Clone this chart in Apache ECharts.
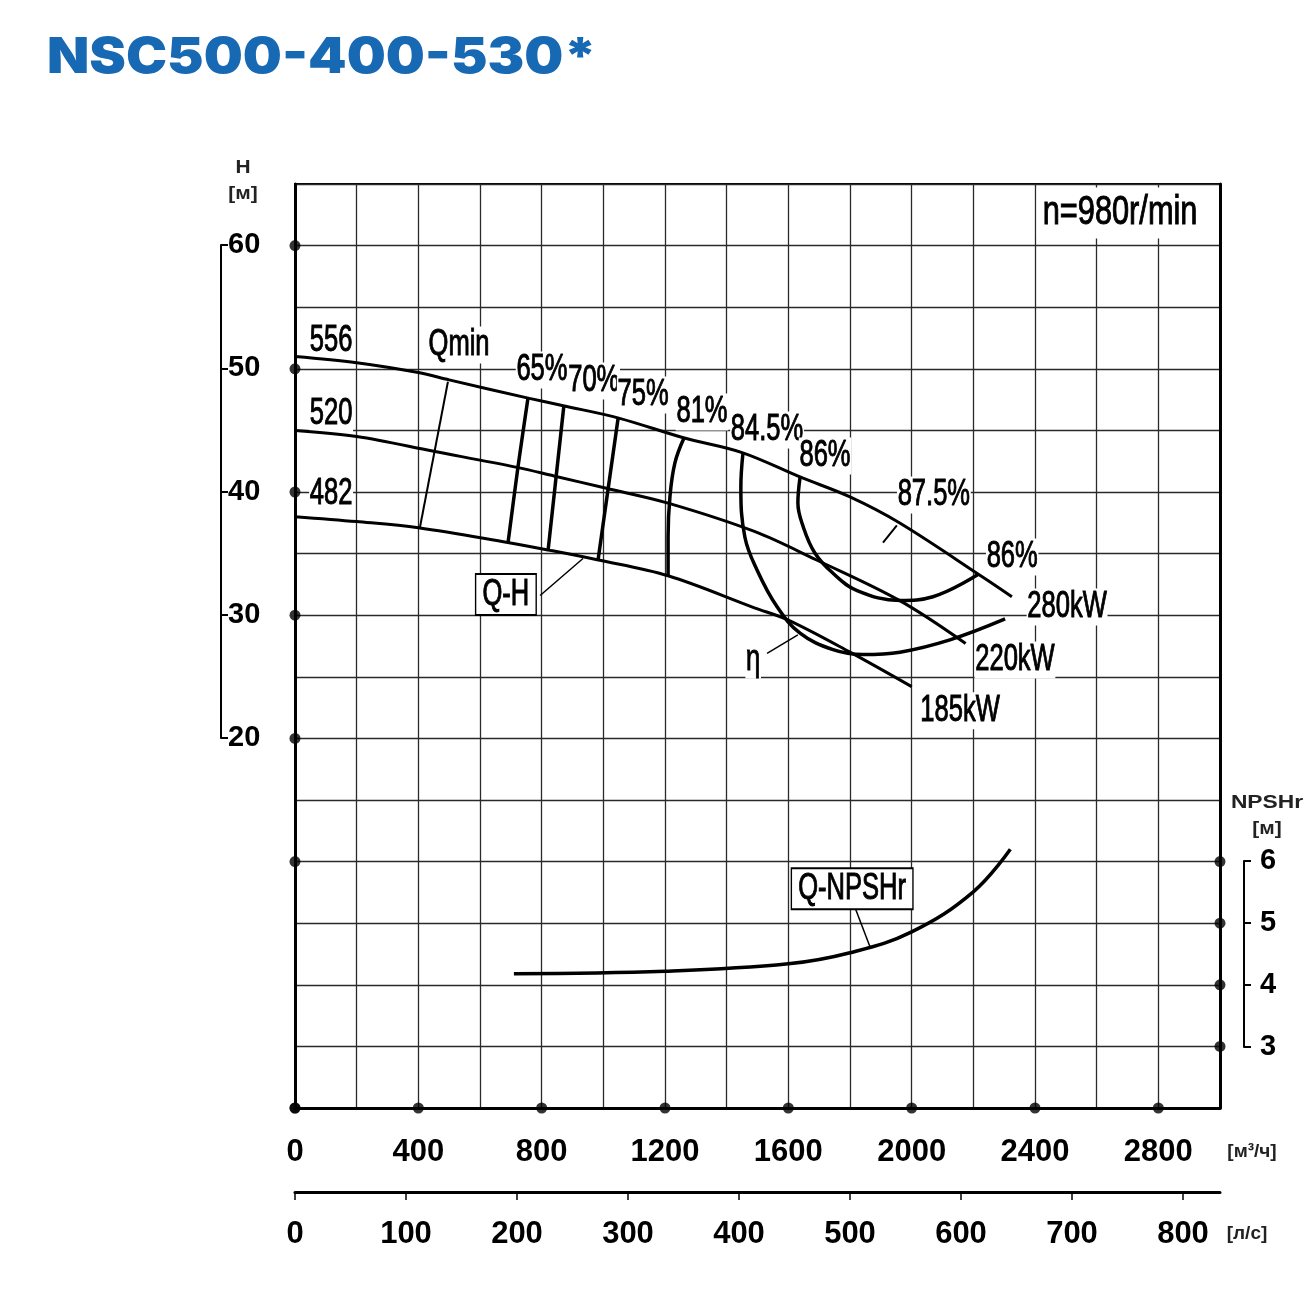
<!DOCTYPE html>
<html>
<head>
<meta charset="utf-8">
<script src="https://cdn.jsdelivr.net/npm/echarts@6/dist/echarts.min.js"></script>
<style>
html, body { margin: 0; padding: 0; background: #fff; }
#main { width: 1310px; height: 1295px; }
</style>
</head>
<body>
<div id="main"></div>
<script>
// Q [m3/h], H [m]
var qh556 = [[0, 51.0], [200, 50.5], [400, 49.7], [500, 49.1], [760, 47.6], [870, 47.0], [1050, 46.0], [1260, 44.4], [1450, 43.2], [1640, 41.2], [1800, 39.6], [1960, 37.5], [2230, 33.1], [2325, 31.5]];
var qh520 = [[0, 45.0], [200, 44.5], [450, 43.3], [720, 42.0], [840, 41.3], [1010, 40.3], [1210, 39.1], [1490, 36.8], [1690, 34.5], [1960, 31.2], [2175, 27.7]];
var qh482 = [[0, 38.0], [200, 37.6], [400, 37.1], [690, 35.9], [820, 35.3], [980, 34.5], [1210, 33.2], [1490, 30.6], [1600, 29.6], [1800, 27.0], [2000, 24.2]];

// iso-efficiency lines
var effQmin = [[496, 48.95], [405, 37.1]];
var eff65 = [[756, 47.7], [723, 42.0], [691, 35.9]];
var eff70 = [[872, 47.0], [821, 35.3]];
var eff75 = [[1048, 46.0], [983, 34.5]];
var eff81 = [[1262, 44.4], [1232, 42.35], [1216, 39.6], [1210, 36.35], [1210, 33.2]];
var eff845 = [[1453, 43.2], [1446, 40.4], [1459, 36.35], [1498, 33.7], [1563, 30.7], [1638, 28.55], [1745, 27.2], [1842, 26.8], [1962, 27.0], [2124, 28.0], [2303, 29.7]];
var eff86 = [[1638, 41.2], [1631, 39.1], [1648, 37.2], [1686, 35.05], [1745, 33.4], [1823, 32.0], [1962, 31.2], [2069, 31.5], [2215, 33.3]];

// Q [m3/h], NPSHr [m]
var npshr = [[710, 4.18], [1200, 4.22], [1600, 4.34], [1800, 4.52], [2000, 4.86], [2200, 5.51], [2320, 6.2]];

// leader lines
var leadQH = [[795, 31.6], [934, 34.6]];
var leadEta = [[1531, 26.9], [1631, 28.4]];
var lead875 = [[1907, 35.9], [1952, 37.3]];
var leadNpsh = [[1818, 5.23], [1866, 4.6]];

// curve labels [Q, H, text]
var curveLabels = [
  [117, 52.26, '556'], [117, 46.33, '520'], [117, 39.84, '482'],
  [532, 51.93, 'Qmin'], [801, 49.9, '65%'], [969, 49.0, '70%'], [1129, 47.87, '75%'],
  [1320, 46.49, '81%'], [1531, 45.03, '84.5%'], [1719, 42.92, '86%'], [2072, 39.76, '87.5%'],
  [2326, 34.72, '86%'], [2504, 30.67, '280kW'], [2335, 26.36, '220kW'], [2157, 22.24, '185kW'],
  [1486, 26.36, 'η'], [2676, 62.65, 'n=980r/min']
];
var boxLabelsH = [[684, 31.68, 'Q-H']];
var boxLabelsN = [[1807, 5.56, 'Q-NPSHr']];

// axis tick labels
var qTicks = [0, 400, 800, 1200, 1600, 2000, 2400, 2800];
var lsTicks = [0, 100, 200, 300, 400, 500, 600, 700, 800];
var hTicks = [20, 30, 40, 50, 60];
var nTicks = [3, 4, 5, 6];
var leftDots = [60, 50, 40, 30, 20, 10, -10];

var font = "'Liberation Sans', Arial, sans-serif";
var black = '#000';

var myChart = echarts.init(document.getElementById('main'));

function curve(data, width, smooth, yIdx) {
    return {
        type: 'line',
        data: data,
        yAxisIndex: yIdx || 0,
        smooth: smooth || false,
        showSymbol: false,
        silent: true,
        lineStyle: {color: black, width: width},
        z: 3
    };
}

function labelSeries(list, yIdx, boxed) {
    return {
        type: 'custom',
        yAxisIndex: yIdx,
        data: list.map(function (r) { return [r[0], r[1]]; }),
        clip: false,
        z: boxed ? 10 : 2,
        renderItem: function (params, api) {
            var p = api.coord([api.value(0), api.value(1)]);
            var txt = list[params.dataIndex][2];
            var style = {
                text: txt,
                fontFamily: font,
                fontSize: 37,
                fill: black,
                stroke: black,
                lineWidth: 1,
                align: 'center',
                verticalAlign: 'middle',
                backgroundColor: '#fff',
                padding: [0, 1]
            };
            var sx = 0.69;
            if (boxed) {
                style.borderColor = black;
                style.borderWidth = 2;
                style.padding = [2, 9, 0, 9];
            }
            if (txt.indexOf('n=') === 0) {
                style.fontSize = 41;
                style.padding = [5, 8];
                sx = 0.75;
            }
            return {type: 'text', x: p[0], y: p[1], scaleX: sx, style: style};
        }
    };
}

function plain(v) { return String(v); }

var unitStyle = {fontFamily: font, fontWeight: 'bold', fontSize: 19, fill: '#222', align: 'center', verticalAlign: 'middle'};
function unitText(txt) { return Object.assign({}, unitStyle, {text: txt}); }

var option = {
    backgroundColor: '#fff',
    animation: false,
    grid: [
        {left: 295, top: 184, width: 925, height: 924, show: true, borderColor: black, borderWidth: 2},
        {left: 221, top: 245, width: 1, height: 493},
        {left: 1244, top: 861, width: 1, height: 186}
    ],
    xAxis: [
        {
            gridIndex: 0, type: 'value', min: 0, max: 3000, interval: 200,
            axisLine: {onZero: false, lineStyle: {color: black, width: 3}},
            axisTick: {show: false},
            splitLine: {lineStyle: {color: '#2a2a2a', width: 1.3}},
            axisLabel: {
                customValues: qTicks, margin: 29, formatter: plain,
                fontFamily: font, fontWeight: 'bold', fontSize: 31, color: black
            }
        },
        {
            gridIndex: 0, type: 'value', position: 'bottom', offset: 84,
            min: 0, max: 3000 / 3.6,
            axisLine: {onZero: false, lineStyle: {color: black, width: 3}},
            axisTick: {customValues: lsTicks, length: 8, lineStyle: {color: black, width: 1.5}},
            splitLine: {show: false},
            axisLabel: {
                customValues: lsTicks, margin: 27, formatter: plain,
                fontFamily: font, fontWeight: 'bold', fontSize: 31, color: black
            }
        },
        {gridIndex: 1, type: 'value', show: false},
        {gridIndex: 2, type: 'value', show: false}
    ],
    yAxis: [
        {
            gridIndex: 0, type: 'value', min: -10, max: 65, interval: 5,
            axisLine: {onZero: false, lineStyle: {color: black, width: 3}},
            axisTick: {show: false},
            axisLabel: {show: false},
            splitLine: {lineStyle: {color: '#2a2a2a', width: 1.3}}
        },
        {
            gridIndex: 0, type: 'value', position: 'right', min: 2, max: 17,
            axisLine: {show: true, onZero: false, lineStyle: {color: black, width: 3}},
            axisTick: {show: false},
            axisLabel: {show: false},
            splitLine: {show: false}
        },
        {
            gridIndex: 1, type: 'value', position: 'left', min: 20, max: 60, interval: 10,
            axisLine: {show: true, onZero: false, lineStyle: {color: black, width: 2}},
            axisTick: {show: true, inside: true, length: 7, lineStyle: {color: black, width: 2}},
            axisLabel: {
                inside: true, margin: 7, customValues: hTicks,
                fontFamily: font, fontWeight: 'bold', fontSize: 29, color: black
            },
            splitLine: {show: false}
        },
        {
            gridIndex: 2, type: 'value', position: 'left', min: 3, max: 6, interval: 1,
            axisLine: {show: true, onZero: false, lineStyle: {color: black, width: 2}},
            axisTick: {show: true, inside: true, length: 7, lineStyle: {color: black, width: 2}},
            axisLabel: {
                inside: true, margin: 16, customValues: nTicks,
                fontFamily: font, fontWeight: 'bold', fontSize: 29, color: black
            },
            splitLine: {show: false}
        }
    ],
    graphic: [
        {type: 'text', x: 47, y: 58, scaleX: 1.1, style: {text: 'NSC500-400-530*', fontFamily: 'Inter', fontWeight: 900, fontSize: 50, fill: '#1769b4', verticalAlign: 'middle'}},
        {type: 'text', x: 243, y: 168, scaleX: 1.1, style: unitText('H')},
        {type: 'text', x: 243, y: 194, scaleX: 1.1, style: unitText('[м]')},
        {type: 'text', x: 1267, y: 803, scaleX: 1.2, style: unitText('NPSHr')},
        {type: 'text', x: 1267, y: 829, scaleX: 1.1, style: unitText('[м]')},
        {type: 'text', x: 1252, y: 1152, style: unitText('[м³/ч]')},
        {type: 'text', x: 1247, y: 1234, style: unitText('[л/с]')}
    ],
    series: [
        curve(qh556, 3, 0.35),
        curve(qh520, 3, 0.35),
        curve(qh482, 3, 0.35),
        curve(effQmin, 2),
        curve(eff65, 3.5, 0.3),
        curve(eff70, 3.5),
        curve(eff75, 3.5),
        curve(eff81, 3.5, 0.4),
        curve(eff845, 3.5, 0.4),
        curve(eff86, 3.5, 0.4),
        curve(leadQH, 1.5),
        curve(leadEta, 1.5),
        curve(lead875, 2),
        curve(npshr, 3.5, 0.4, 1),
        curve(leadNpsh, 1.5, false, 1),
        {
            type: 'scatter', symbolSize: 11, clip: false, silent: true, z: 6,
            itemStyle: {color: black},
            data: leftDots.map(function (h) { return [0, h]; })
                .concat(qTicks.map(function (q) { return [q, -10]; }))
        },
        {
            type: 'scatter', yAxisIndex: 1, symbolSize: 11, clip: false, silent: true, z: 6,
            itemStyle: {color: black},
            data: nTicks.map(function (n) { return [3000, n]; })
        },
        labelSeries(curveLabels, 0, false),
        labelSeries(boxLabelsH, 0, true),
        labelSeries(boxLabelsN, 1, true)
    ]
};

myChart.setOption(option);
</script>
</body>
</html>
